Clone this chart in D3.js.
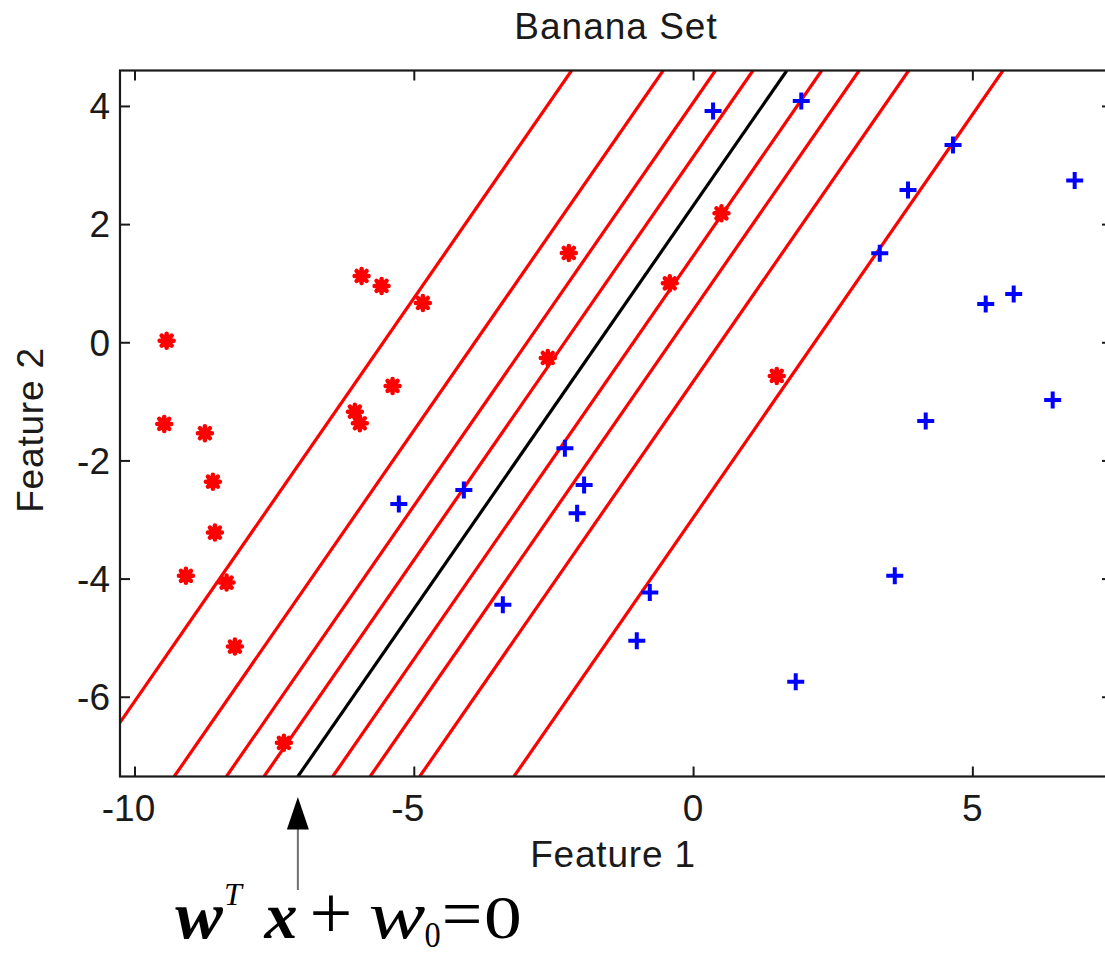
<!DOCTYPE html>
<html>
<head>
<meta charset="utf-8">
<script src="https://cdn.jsdelivr.net/npm/d3@7"></script>
<style>
  body { margin: 0; background: #fff; }
  svg { display: block; }
</style>
</head>
<body>
<svg id="chart" width="1105" height="956"></svg>
<script>
// Class 1 samples (Feature 1, Feature 2)
const class1X = [-9.425, -9.468, -8.740, -8.597, -8.561, -9.080, -8.352, -8.203, -5.935, -5.577,
                 -4.838, -5.380, -6.055, -5.966, -7.326, -2.601, -2.225, -0.417, 0.508, 1.498];
const class1Y = [0.027, -1.382, -1.540, -2.359, -3.222, -3.954, -4.068, -5.151, 1.122, 0.953,
                 0.665, -0.739, -1.174, -1.371, -6.780, -0.266, 1.511, 0.998, 2.183, -0.570];

// Class 2 samples (Feature 1, Feature 2)
const class2X = [0.358, 1.937, 4.654, 3.848, 6.832, 3.342, 5.239, 5.740, 4.165, 6.438,
                 -2.295, -1.951, -2.076, -4.104, -5.268, -3.406, -0.775, -1.008, 3.611, 1.838];
const class2Y = [3.914, 4.083, 3.338, 2.577, 2.738, 1.506, 0.648, 0.817, -1.332, -0.976,
                 -1.794, -2.415, -2.893, -2.499, -2.736, -4.445, -4.237, -5.054, -3.954, -5.748];

// Contour lines of the linear discriminant: Feature 1 value where each crosses Feature 2 = 0
const contourOffsets = [-5.545, -3.905, -2.970, -2.297, -1.067, -0.397, 0.490, 2.178];
const boundaryOffset = -1.691;   // w'x + w0 = 0
const contourSlope = 1.365;      // d(Feature 2) / d(Feature 1)

const xTicks = [-10, -5, 0, 5, 10];
const yTicks = [-6, -4, -2, 0, 2, 4];
const xDomain = [-10.26, 7.5];
const yDomain = [-7.35, 4.6];

(function draw() {
  const svg = d3.select("#chart");
  const pLeft = 120, pRight = 1112, pTop = 70.5, pBottom = 776.5;

  const x = d3.scaleLinear().domain(xDomain).range([pLeft, pRight]);
  const y = d3.scaleLinear().domain(yDomain).range([pBottom, pTop]);

  const sans = "'Liberation Sans', Arial, Helvetica, sans-serif";
  const serif = "'Liberation Serif', 'Times New Roman', serif";

  svg.append("defs").append("clipPath").attr("id", "plotClip")
    .append("rect").attr("x", pLeft).attr("y", pTop)
    .attr("width", pRight - pLeft).attr("height", pBottom - pTop);

  const plot = svg.append("g").attr("clip-path", "url(#plotClip)");

  // contour lines: x = offset + y / slope
  const lineGen = d3.line().x(d => x(d[0])).y(d => y(d[1]));
  const contour = offset => yDomain.map(v => [offset + v / contourSlope, v]);

  plot.selectAll("path.level").data(contourOffsets).join("path")
    .attr("class", "level")
    .attr("d", o => lineGen(contour(o)))
    .attr("fill", "none").attr("stroke", "#ff0000").attr("stroke-width", 3.2);

  plot.append("path")
    .attr("d", lineGen(contour(boundaryOffset)))
    .attr("fill", "none").attr("stroke", "#000").attr("stroke-width", 3.2);

  const class1 = class1X.map((v, i) => [v, class1Y[i]]);
  const class2 = class2X.map((v, i) => [v, class2Y[i]]);

  // class 1: asterisk markers
  const ast = plot.selectAll("g.c1").data(class1).join("g")
    .attr("class", "c1")
    .attr("transform", d => `translate(${x(d[0])},${y(d[1])})`);
  ast.append("circle").attr("r", 5.5).attr("fill", "#ff0000");
  ast.append("path")
    .attr("d", "M-7,0H7M0,-7V7M-5,-5L5,5M-5,5L5,-5")
    .attr("stroke", "#ff0000").attr("stroke-width", 4.5).attr("stroke-linecap", "round");

  // class 2: plus markers
  plot.selectAll("path.c2").data(class2).join("path")
    .attr("class", "c2")
    .attr("transform", d => `translate(${x(d[0])},${y(d[1])})`)
    .attr("d", "M-8.5,0H8.5M0,-8.5V8.5")
    .attr("stroke", "#0000ff").attr("stroke-width", 4);

  // axes box with inward ticks
  const axisColor = "#1a1a1a";
  const tickLen = 10;
  const xAxisB = d3.axisBottom(x).tickValues(xTicks).tickSize(-tickLen).tickFormat("");
  const xAxisT = d3.axisTop(x).tickValues(xTicks).tickSize(-tickLen).tickFormat("");
  const yAxisL = d3.axisLeft(y).tickValues(yTicks).tickSize(-tickLen).tickFormat("");
  const yAxisR = d3.axisRight(y).tickValues(yTicks).tickSize(-tickLen).tickFormat("");

  function styleAxis(g) {
    g.select(".domain").remove();
    g.selectAll(".tick text").remove();
    g.selectAll(".tick line").attr("stroke", axisColor).attr("stroke-width", 2);
  }
  svg.append("g").attr("transform", `translate(0,${pBottom})`).call(xAxisB).call(styleAxis);
  svg.append("g").attr("transform", `translate(0,${pTop})`).call(xAxisT).call(styleAxis);
  svg.append("g").attr("transform", `translate(${pLeft},0)`).call(yAxisL).call(styleAxis);
  svg.append("g").attr("transform", `translate(${pRight},0)`).call(yAxisR).call(styleAxis);

  svg.append("rect")
    .attr("x", pLeft).attr("y", pTop).attr("width", pRight - pLeft).attr("height", pBottom - pTop)
    .attr("fill", "none").attr("stroke", axisColor).attr("stroke-width", 2.2);

  // tick labels
  const fmt = v => (v < 0 ? "-" : "") + Math.abs(v);
  svg.append("g").selectAll("text").data(xTicks.filter(v => v <= xDomain[1])).join("text")
    .attr("x", d => x(d)).attr("y", 820.5)
    .attr("dx", d => d < 0 ? -6 : 0)
    .attr("text-anchor", "middle")
    .attr("font-family", sans).attr("font-size", 37).attr("fill", "#1a1a1a")
    .text(fmt);

  svg.append("g").selectAll("text").data(yTicks).join("text")
    .attr("x", 110).attr("y", d => y(d) + 13.3)
    .attr("text-anchor", "end")
    .attr("font-family", sans).attr("font-size", 37).attr("fill", "#1a1a1a")
    .text(fmt);

  // titles
  svg.append("text").attr("x", 616).attr("y", 39).attr("text-anchor", "middle")
    .attr("font-family", sans).attr("font-size", 37).attr("letter-spacing", 1).attr("fill", "#1a1a1a")
    .text("Banana Set");
  svg.append("text").attr("x", 613).attr("y", 866.5).attr("text-anchor", "middle")
    .attr("font-family", sans).attr("font-size", 37).attr("letter-spacing", 0.8).attr("fill", "#1a1a1a")
    .text("Feature 1");
  svg.append("text").attr("transform", "translate(43,430) rotate(-90)").attr("text-anchor", "middle")
    .attr("font-family", sans).attr("font-size", 37).attr("letter-spacing", 0.8).attr("fill", "#1a1a1a")
    .text("Feature 2");

  // annotation arrow pointing at the decision boundary where it meets the lower axis
  const ax = x(boundaryOffset + yDomain[0] / contourSlope);
  svg.append("line").attr("x1", ax).attr("x2", ax).attr("y1", 890).attr("y2", 826)
    .attr("stroke", "#707070").attr("stroke-width", 2);
  svg.append("path")
    .attr("d", `M${ax},797L${ax - 11},829.5L${ax + 11},829.5Z`)
    .attr("fill", "#000");

  // equation label, each glyph placed and stretched individually
  const eq = svg.append("g").attr("font-family", serif).attr("fill", "#000").attr("text-anchor", "middle");
  function glyph(txt, cx, base, size, sx, opts) {
    const t = eq.append("text")
      .attr("transform", `translate(${cx},${base}) scale(${sx},1)`)
      .attr("font-size", size).text(txt);
    if (opts && opts.bold) t.attr("font-weight", "bold");
    if (opts && opts.italic) t.attr("font-style", "italic");
    return t;
  }
  glyph("w", 199, 938, 68, 1.05, { bold: true, italic: true });
  glyph("T", 233, 905, 32, 1.0, { italic: true });
  glyph("x", 281, 938, 66, 1.0, { bold: true, italic: true });
  glyph("+", 331, 938, 76, 1.0);
  glyph("w", 397, 938, 68, 1.25, { italic: true });
  glyph("0", 432.5, 947, 36, 0.9);
  glyph("=", 462, 938, 72, 1.0);
  glyph("0", 503, 938, 62, 1.22);
})();
</script>
</body>
</html>
